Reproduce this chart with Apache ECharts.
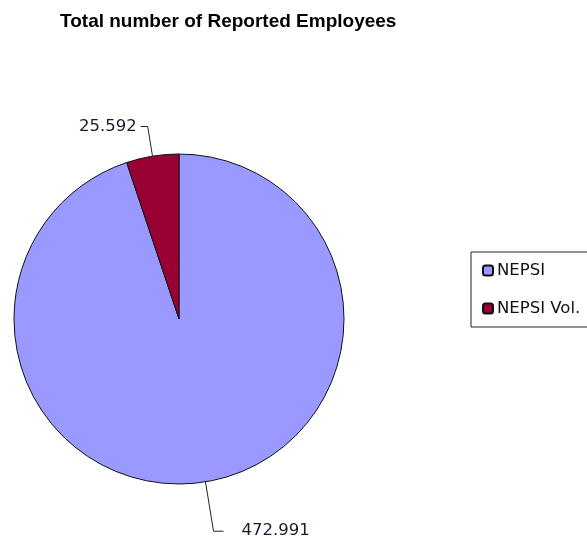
<!DOCTYPE html>
<html>
<head>
<meta charset="utf-8">
<script src="https://cdn.jsdelivr.net/npm/echarts@6/dist/echarts.min.js"></script>
<style>
  html, body { margin: 0; padding: 0; background: #fff; }
  #chart { width: 587px; height: 540px; }
</style>
</head>
<body>
<div id="chart"></div>
<script>
const categories = ['NEPSI', 'NEPSI Vol.'];
const values = [472.991, 25.592];
const colors = ['#9999FF', '#990033'];

const myChart = echarts.init(document.getElementById('chart'));

const option = {
  animation: false,
  title: {
    text: 'Total number of Reported Employees',
    left: 55,
    top: 7,
    textStyle: {
      fontFamily: 'Liberation Sans',
      fontWeight: 'bold',
      fontSize: 19,
      color: '#000'
    }
  },
  legend: {
    orient: 'vertical',
    left: 471,
    top: 252,
    padding: [10, 40, 10, 11],
    itemWidth: 10,
    itemHeight: 10,
    itemGap: 21,
    borderColor: '#222',
    borderWidth: 1,
    data: categories,
    textStyle: {
      fontFamily: 'DejaVu Sans',
      fontSize: 16.5,
      color: '#111',
      padding: [0, 0, 0, -1]
    }
  },
  series: [
    {
      type: 'pie',
      center: [179, 319],
      radius: 165,
      startAngle: 90,
      clockwise: true,
      label: {
        show: true,
        position: 'outside',
        fontFamily: 'DejaVu Sans',
        fontSize: 16.5,
        color: '#1a1a33',
        distanceToLabelLine: 4,
        formatter: function (p) {
          return p.value.toFixed(3);
        }
      },
      labelLine: {
        show: true,
        length: 30,
        length2: 7,
        smooth: false,
        lineStyle: { color: '#222', width: 1 }
      },
      itemStyle: {
        borderColor: '#111',
        borderWidth: 1
      },
      emphasis: { disabled: true },
      data: categories.map(function (name, i) {
        return {
          name: name,
          value: values[i],
          itemStyle: { color: colors[i] },
          label: i === 0 ? { distanceToLabelLine: 18 } : undefined,
          labelLine: i === 0 ? { length: 50, length2: 10 } : undefined
        };
      })
    }
  ]
};

myChart.setOption(option);
window.addEventListener('resize', function () {
  myChart.resize();
});
</script>
</body>
</html>
